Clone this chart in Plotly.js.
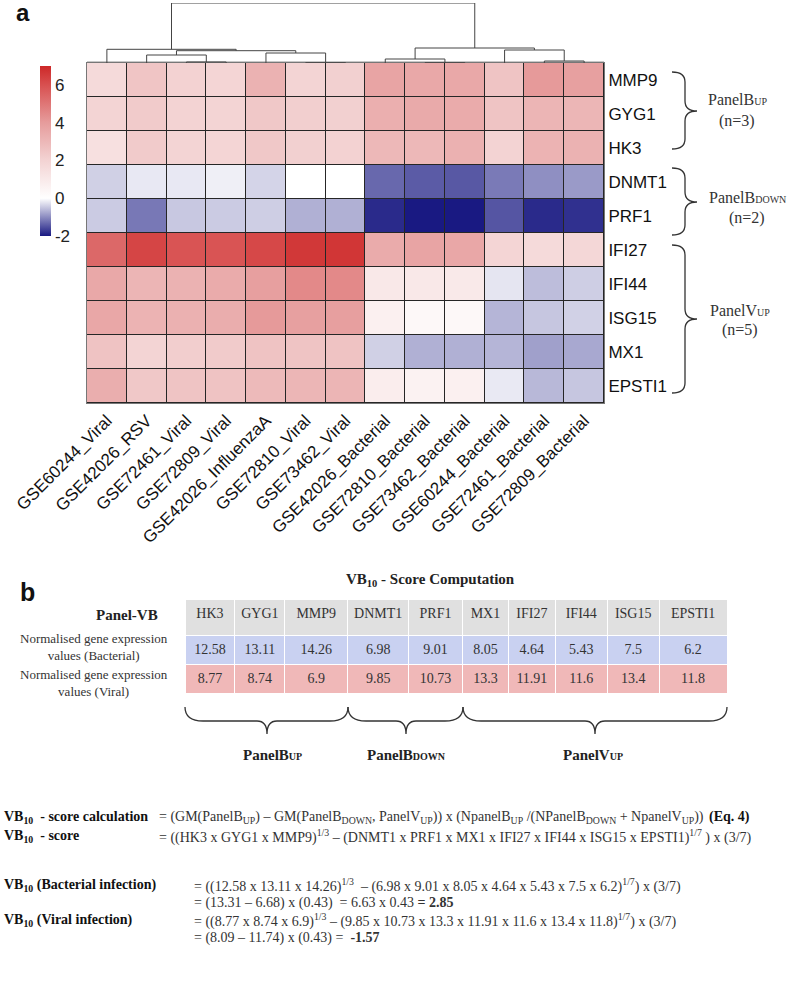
<!DOCTYPE html>
<html><head><meta charset="utf-8">
<script src="https://cdn.plot.ly/plotly-3.0.1.min.js"></script>
<style>html,body{margin:0;padding:0;background:#fff}</style>
</head><body><div id="chart" style="width:791px;height:984px"></div>
<script>
// ---------- DATA ----------
const samples = ['GSE60244_Viral','GSE42026_RSV','GSE72461_Viral','GSE72809_Viral','GSE42026_InfluenzaA','GSE72810_Viral','GSE73462_Viral','GSE42026_Bacterial','GSE72810_Bacterial','GSE73462_Bacterial','GSE60244_Bacterial','GSE72461_Bacterial','GSE72809_Bacterial'];
const genes = ['MMP9','GYG1','HK3','DNMT1','PRF1','IFI27','IFI44','ISG15','MX1','EPSTI1'];
const MMP9   = [1.7, 2.5, 2.05, 1.9, 3.2, 1.95, 2.1, 3.7, 3.55, 3.55, 2.55, 4.05, 3.85];
const GYG1   = [1.95, 2.3, 2.0, 1.95, 2.4, 2.15, 2.1, 3.3, 3.5, 3.45, 2.55, 3.1, 3.05];
const HK3    = [1.4, 2.3, 1.95, 1.9, 2.4, 2.1, 2.05, 3.0, 3.0, 3.25, 2.0, 3.15, 3.2];
const DNMT1  = [-0.41, -0.2, -0.2, -0.14, -0.37, 0.0, 0.0, -1.31, -1.43, -1.45, -1.16, -0.97, -0.88];
const PRF1   = [-0.45, -1.17, -0.48, -0.45, -0.43, -0.69, -0.69, -1.85, -2.0, -2.0, -1.48, -1.85, -1.8];
const IFI27  = [5.37, 6.27, 5.9, 5.9, 6.2, 6.6, 6.65, 3.45, 3.7, 3.6, 1.9, 1.7, 1.8];
const IFI44  = [3.55, 3.1, 3.2, 3.45, 3.9, 4.5, 4.5, 1.05, 1.05, 1.0, -0.23, -0.57, -0.43];
const ISG15  = [3.6, 3.15, 3.25, 3.4, 4.05, 3.85, 3.9, 0.7, 0.3, 0.3, -0.64, -0.5, -0.4];
const MX1    = [2.6, 1.95, 2.2, 2.3, 2.6, 2.55, 2.6, -0.41, -0.69, -0.69, -0.64, -0.83, -0.76];
const EPSTI1 = [3.35, 2.4, 2.55, 2.6, 2.9, 3.05, 3.1, 0.8, 0.6, 0.7, -0.19, -0.62, -0.5];
const colorbarTicks = [-2, 0, 2, 4, 6];

// column dendrogram (leaves 0..12, new nodes 13..24)
const dendLeft   = [2, 1, 5, 4, 14, 0, 8, 7, 11, 10, 20, 18];
const dendRight  = [3, 13, 6, 15, 16, 17, 9, 19, 12, 21, 22, 23];
const dendHeight = [1, 8, 0.3, 10, 12.3, 13.7, 0.3, 4, 2, 13, 15, 60];

// table (panel b)
const tableGenes = ['HK3','GYG1','MMP9','DNMT1','PRF1','MX1','IFI27','IFI44','ISG15','EPSTI1'];
const bacterialValues = [12.58, 13.11, 14.26, 6.98, 9.01, 8.05, 4.64, 5.43, 7.5, 6.2];
const viralValues = [8.77, 8.74, 6.9, 9.85, 10.73, 13.3, 11.91, 11.6, 13.4, 11.8];
const bacterialResult = ['13.31', '6.68', '6.63', '0.43', '2.85'];
const viralResult = ['8.09', '11.74', '0.43', '-1.57'];

// ---------- LAYOUT HELPERS ----------
const W = 791, H = 984;
const px = x => x / W, py = y => 1 - y / H;
const SANS = 'Liberation Sans, Arial, sans-serif';
const SERIF = 'Liberation Serif, Times New Roman, serif';

// dendrogram segments
const nodeX = samples.map((s, i) => i), nodeH = samples.map(() => 0);
const dx = [], dy = [];
dendLeft.forEach((l, k) => {
  const r = dendRight[k], h = dendHeight[k];
  dx.push(nodeX[l], nodeX[l], nodeX[r], nodeX[r], null);
  dy.push(nodeH[l], h, h, nodeH[r], null);
  nodeX.push((nodeX[l] + nodeX[r]) / 2);
  nodeH.push(h);
});

const heat = {
  type: 'heatmap', x: samples, y: genes,
  z: [MMP9, GYG1, HK3, DNMT1, PRF1, IFI27, IFI44, ISG15, MX1, EPSTI1],
  zmin: -2, zmax: 7,
  colorscale: [[0, 'rgb(25,25,130)'], [2/9, 'rgb(255,255,255)'], [4/9, 'rgb(243,211,211)'],
               [6/9, 'rgb(230,156,156)'], [8/9, 'rgb(216,80,80)'], [1, 'rgb(205,40,40)']],
  xgap: 1, ygap: 1, hoverinfo: 'skip',
  colorbar: {x: px(40), xanchor: 'left', y: py(66), yanchor: 'top', len: 170 / H, lenmode: 'fraction',
             thickness: 11, thicknessmode: 'pixels', outlinewidth: 0, xpad: 0, ypad: 0,
             tickvals: colorbarTicks, ticktext: colorbarTicks.map(String), ticks: '',
             tickfont: {family: SANS, size: 17, color: '#222'}}
};
const dend = {
  type: 'scatter', mode: 'lines', x: dx, y: dy, xaxis: 'x2', yaxis: 'y2',
  line: {color: '#444', width: 1}, cliponaxis: false, hoverinfo: 'skip', connectgaps: false
};
const table = {
  type: 'table',
  domain: {x: [px(185), px(728)], y: [py(705), py(599)]},
  columnwidth: [50, 50, 63, 61, 54, 46, 47, 52, 52, 68],
  header: {values: tableGenes.map(g => [g]), height: 36, align: 'center',
           fill: {color: '#e0e0e0'}, line: {color: 'white', width: 1},
           font: {family: SERIF, size: 14, color: '#333'}},
  cells: {values: tableGenes.map((g, i) => [bacterialValues[i], viralValues[i]]), height: 29, align: 'center',
          fill: {color: [['#c9d1f1', '#f0b8b8']]}, line: {color: 'white', width: 1},
          font: {family: SERIF, size: 14, color: '#333'}}
};

function vBrace(y0, y1, ym) {
  const x0 = 672, xs = 685, xt = 697, r = 10;
  return `M${px(x0)},${py(y0)} Q${px(xs)},${py(y0)} ${px(xs)},${py(y0 + r)} L${px(xs)},${py(ym - r)} Q${px(xs)},${py(ym)} ${px(xt)},${py(ym)} Q${px(xs)},${py(ym)} ${px(xs)},${py(ym + r)} L${px(xs)},${py(y1 - r)} Q${px(xs)},${py(y1)} ${px(x0)},${py(y1)}`;
}
function hBrace(x1, x2, xm) {
  const y0 = 707, ym = 721, yb = 734, r1 = 18, r2 = 10;
  return `M${px(x1)},${py(y0)} Q${px(x1)},${py(ym)} ${px(x1 + r1)},${py(ym)} L${px(xm - r2)},${py(ym)} Q${px(xm)},${py(ym)} ${px(xm)},${py(yb)} Q${px(xm)},${py(ym)} ${px(xm + r2)},${py(ym)} L${px(x2 - r1)},${py(ym)} Q${px(x2)},${py(ym)} ${px(x2)},${py(y0)}`;
}
const braceLine = {color: '#333', width: 1.3};
const shapes = [
  {type: 'rect', xref: 'x2 domain', yref: 'y2 domain', x0: -0.05, x1: 1.05, y0: 0.02, y1: 1.1, fillcolor: 'white', line: {width: 0}, layer: 'below'},
  {type: 'path', xref: 'paper', yref: 'paper', path: vBrace(72, 149, 111), line: braceLine},
  {type: 'path', xref: 'paper', yref: 'paper', path: vBrace(168, 235, 202), line: braceLine},
  {type: 'path', xref: 'paper', yref: 'paper', path: vBrace(245, 393, 319), line: braceLine},
  {type: 'path', xref: 'paper', yref: 'paper', path: hBrace(185, 348, 267), line: braceLine},
  {type: 'path', xref: 'paper', yref: 'paper', path: hBrace(348, 463, 406), line: braceLine},
  {type: 'path', xref: 'paper', yref: 'paper', path: hBrace(463, 727, 595), line: braceLine}
];

function ann(text, x, y, opts) {
  return Object.assign({text, x: px(x), y: py(y), xref: 'paper', yref: 'paper', showarrow: false,
    xanchor: 'center', yanchor: 'middle', font: {family: SERIF, size: 16, color: '#333'}}, opts || {});
}
const sm = t => `<span style="font-size:10px">${t}</span>`;
const B = '#222';
const annotations = [
  ann('<b>a</b>', 14, 0, {xanchor: 'left', yanchor: 'top', yshift: 3, font: {family: SANS, size: 24, color: '#111'}}),
  ann('<b>b</b>', 18, 592, {xanchor: 'left', font: {family: SANS, size: 25, color: '#111'}}),
  ann('PanelB' + sm('UP'), 737, 100),
  ann('(n=3)', 737, 121),
  ann('PanelB' + sm('DOWN'), 747, 197),
  ann('(n=2)', 747, 218),
  ann('PanelV' + sm('UP'), 740, 310),
  ann('(n=5)', 740, 330),
  ann('<b>VB<sub>10</sub> - Score Computation</b>', 430, 580, {font: {family: SERIF, size: 15, color: B}}),
  ann('<b>Panel-VB</b>', 127, 615, {font: {family: SERIF, size: 15, color: B}}),
  ann('Normalised gene expression<br>values (Bacterial)', 94, 647, {font: {family: SERIF, size: 13, color: '#333'}}),
  ann('Normalised gene expression<br>values (Viral)', 94, 683, {font: {family: SERIF, size: 13, color: '#333'}}),
  ann('<b>PanelB' + sm('UP') + '</b>', 272, 755, {font: {family: SERIF, size: 15, color: B}}),
  ann('<b>PanelB' + sm('DOWN') + '</b>', 407, 755, {font: {family: SERIF, size: 15, color: B}}),
  ann('<b>PanelV' + sm('UP') + '</b>', 593, 755, {font: {family: SERIF, size: 15, color: B}})
];
const fl = (text, x, y, bold) => ann(bold ? '<b>' + text + '</b>' : text, x, y,
  {xanchor: 'left', font: {family: SERIF, size: 14, color: bold ? '#111' : '#333'}});
const g = tableGenes;
annotations.push(
  fl('VB<sub>10</sub>  - score calculation', 2, 817, true),
  fl('= (GM(PanelB<sub>UP</sub>) – GM(PanelB<sub>DOWN</sub>, PanelV<sub>UP</sub>)) x (NpanelB<sub>UP</sub> /(NPanelB<sub>DOWN</sub> + NpanelV<sub>UP</sub>))', 157, 817),
  ann('<b>(Eq. 4)</b>', 752, 817, {xanchor: 'right', font: {family: SERIF, size: 14, color: '#111'}}),
  fl('VB<sub>10</sub>  - score', 2, 836, true),
  fl('= ((' + g.slice(0, 3).join(' x ') + ')<sup>1/3</sup> – (' + g.slice(3).join(' x ') + ')<sup>1/7</sup> ) x (3/7)', 157, 836),
  fl('VB<sub>10</sub> (Bacterial infection)', 2, 885, true),
  fl('= ((' + bacterialValues.slice(0, 3).join(' x ') + ')<sup>1/3</sup>  – (' + bacterialValues.slice(3).join(' x ') + ')<sup>1/7</sup>) x (3/7)', 192, 885),
  fl('= (' + bacterialResult[0] + ' – ' + bacterialResult[1] + ') x (' + bacterialResult[3] + ')  = ' + bacterialResult[2] + ' x ' + bacterialResult[3] + ' <b>= ' + bacterialResult[4] + '</b>', 192, 903),
  fl('VB<sub>10</sub> (Viral infection)', 2, 920, true),
  fl('= ((' + viralValues.slice(0, 3).join(' x ') + ')<sup>1/3</sup> – (' + viralValues.slice(3).join(' x ') + ')<sup>1/7</sup>) x (3/7)', 192, 920),
  fl('= (' + viralResult[0] + ' – ' + viralResult[1] + ') x (' + viralResult[2] + ') =  <b>' + viralResult[3] + '</b>', 192, 938)
);

const layout = {
  width: W, height: H, margin: {l: 0, r: 0, t: 0, b: 0}, showlegend: false,
  paper_bgcolor: 'white', plot_bgcolor: '#262626',
  xaxis: {domain: [px(87), px(604)], anchor: 'y', type: 'category', tickangle: -45, ticks: '',
          tickfont: {family: SANS, size: 17, color: '#111'}, showgrid: false, zeroline: false,
          showline: true, mirror: true, linecolor: '#777', linewidth: 1},
  yaxis: {domain: [py(403), py(63)], anchor: 'x', type: 'category', autorange: 'reversed', side: 'right', ticks: '',
          tickfont: {family: SANS, size: 17, color: '#111'}, showgrid: false, zeroline: false,
          showline: true, mirror: true, linecolor: '#777', linewidth: 1},
  xaxis2: {domain: [px(87), px(604)], anchor: 'y2', range: [-0.5, 12.5], visible: false},
  yaxis2: {domain: [py(63), py(3)], anchor: 'x2', range: [0, 60], visible: false},
  shapes, annotations
};
Plotly.newPlot('chart', [heat, dend, table], layout, {staticPlot: true, displayModeBar: false});
</script></body></html>
